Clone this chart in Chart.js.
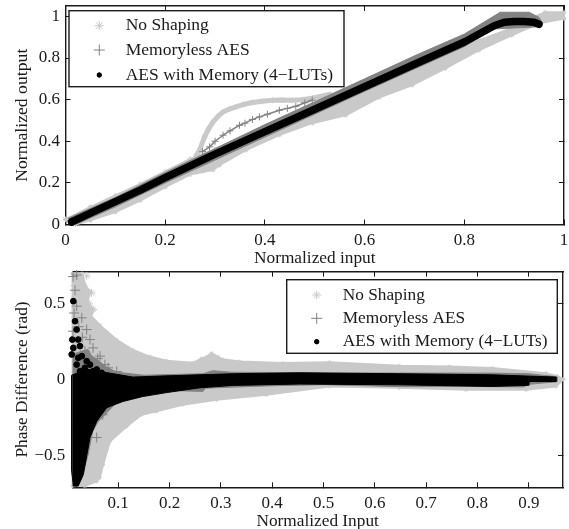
<!DOCTYPE html>
<html>
<head>
<meta charset="utf-8">
<script src="https://cdn.jsdelivr.net/npm/chart.js@4"></script>
<style>
html, body { margin: 0; padding: 0; background: #fff; overflow: hidden; }
canvas { position: absolute; left: 0; }
#topChart { top: 0; }
#bottomChart { top: 265px; }
</style>
</head>
<body>
<canvas id="topChart" width="569" height="269"></canvas>
<canvas id="bottomChart" width="569" height="267"></canvas>
<script>
const seriesNames = ['No Shaping', 'Memoryless AES', 'AES with Memory (4\u2212LUTs)'];

// upper panel: normalized input / normalized output
const topXTicks = [0, 0.2, 0.4, 0.6, 0.8, 1];
const topYTicks = [0, 0.2, 0.4, 0.6, 0.8, 1];
const topNoShapingBand = [[0, 0.025], [0.05, 0.085], [0.1, 0.14], [0.15, 0.195], [0.2, 0.255], [0.25, 0.315], [0.3, 0.36], [0.5, 0.55], [0.6, 0.66], [0.722, 0.79], [0.762, 0.822], [0.829, 0.885], [0.895, 0.943], [0.935, 0.991], [0.962, 1.02], [1, 1.02], [1, 0.99], [0.949, 0.966], [0.895, 0.909], [0.829, 0.837], [0.762, 0.75], [0.695, 0.669], [0.629, 0.61], [0.562, 0.525], [0.495, 0.487], [0.429, 0.43], [0.362, 0.357], [0.309, 0.285], [0.296, 0.262], [0.25, 0.24], [0.2, 0.18], [0.15, 0.115], [0.1, 0.06], [0.05, 0.02], [0.02, 0], [0, 0.025]];
const topNoShapingHump = [[0.262, 0.33], [0.269, 0.357], [0.279, 0.421], [0.287, 0.46], [0.296, 0.493], [0.306, 0.52], [0.316, 0.541], [0.329, 0.555], [0.342, 0.565], [0.358, 0.577], [0.375, 0.586], [0.395, 0.592], [0.415, 0.597], [0.435, 0.598], [0.455, 0.597], [0.475, 0.6], [0.495, 0.607], [0.53, 0.625]];
const topMemorylessBand = [[0.005, 0.03], [0.1, 0.13], [0.2, 0.25], [0.3, 0.365], [0.4, 0.48], [0.5, 0.59], [0.6, 0.7], [0.709, 0.82], [0.8, 0.915], [0.872, 1.02], [0.93, 1.02], [0.95, 0.995], [0.955, 0.975], [0.95, 0.95], [0.86, 0.94], [0.8, 0.855], [0.6, 0.64], [0.4, 0.42], [0.2, 0.2], [0.1, 0.085], [0.02, 0], [0.005, 0.03]];
const topMemorylessHump = [[0.275, 0.35], [0.289, 0.373], [0.3, 0.4], [0.316, 0.429], [0.33, 0.45], [0.349, 0.477], [0.36, 0.487], [0.375, 0.505], [0.389, 0.517], [0.405, 0.53], [0.429, 0.549], [0.445, 0.558], [0.462, 0.568], [0.48, 0.585], [0.495, 0.597]];
const topMemoryLine = [[0.012, 0.012], [0.05, 0.055], [0.1, 0.11], [0.15, 0.165], [0.2, 0.225], [0.25, 0.282], [0.3, 0.338], [0.4, 0.446], [0.5, 0.554], [0.6, 0.662], [0.7, 0.77], [0.8, 0.877], [0.86, 0.955], [0.88, 0.972], [0.9, 0.976], [0.92, 0.975], [0.94, 0.972], [0.95, 0.962]];

// lower panel: normalized input / phase difference
const bottomXTicks = [0.1, 0.2, 0.3, 0.4, 0.5, 0.6, 0.7, 0.8, 0.9];
const bottomYTicks = [-0.5, 0, 0.5];
const bottomNoShapingCloud = [[0.011, 0.7], [0.03, 0.7], [0.036, 0.62], [0.046, 0.58], [0.04, 0.52], [0.052, 0.46], [0.047, 0.42], [0.0644, 0.36], [0.0969, 0.263], [0.1286, 0.197], [0.1617, 0.153], [0.194, 0.125], [0.2455, 0.112], [0.262, 0.14], [0.272, 0.15], [0.2817, 0.175], [0.295, 0.15], [0.3037, 0.135], [0.3368, 0.12], [0.421, 0.11], [0.5119, 0.116], [0.648, 0.092], [0.745, 0.087], [0.829, 0.077], [0.9335, 0.044], [0.955, 0.025], [0.968, 0.005], [0.9529, -0.044], [0.8945, -0.066], [0.778, -0.066], [0.648, -0.053], [0.5119, -0.044], [0.3887, -0.099], [0.2914, -0.132], [0.226, -0.164], [0.1747, -0.208], [0.1455, -0.23], [0.1163, -0.307], [0.0838, -0.406], [0.0705, -0.559], [0.064, -0.645], [0.058, -0.669], [0.035, -0.7], [0.011, -0.7], [0.011, 0.7]];
const bottomNoShapingStars = [[0.0385, 0.684], [0.027, 0.66], [0.048, 0.572], [0.0513, 0.463], [0.015, 0.62], [0.03, 0.56], [0.043, 0.5]];
const bottomMemorylessCloud = [[0.012, 0.17], [0.041, 0.2], [0.048, 0.16], [0.0774, 0.085], [0.097, 0.05], [0.15, 0.03], [0.265, 0.04], [0.284, 0.06], [0.32, 0.05], [0.51, 0.045], [0.829, 0.044], [0.9, 0.04], [0.955, 0.02], [0.955, -0.012], [0.9, -0.03], [0.89, -0.047], [0.8, -0.044], [0.65, -0.045], [0.5, -0.032], [0.39, -0.04], [0.27, -0.055], [0.265, -0.077], [0.2, -0.07], [0.15, -0.1], [0.1, -0.14], [0.08, -0.208], [0.06, -0.28], [0.05, -0.34], [0.0415, -0.49], [0.029, -0.645], [0.02, -0.7], [0.011, -0.7], [0.012, 0.17]];
const bottomMemorylessCrosses = [[0.019, 0.69], [0.012, 0.68], [0.0158, 0.59], [0.019, 0.485], [0.014, 0.44], [0.029, 0.408], [0.023, 0.35], [0.0385, 0.331], [0.03, 0.28], [0.045, 0.265], [0.051, 0.21], [0.035, 0.189], [0.0645, 0.156], [0.06, 0.14], [0.074, 0.1], [0.0805, 0.079], [0.097, 0.055], [0.012, 0.32], [0.058, -0.38], [0.07, -0.23]];
const bottomMemoryCloud = [[0.009, 0.03], [0.04, 0.07], [0.0644, 0.055], [0.1286, 0.018], [0.1947, 0.026], [0.323, 0.04], [0.453, 0.046], [0.648, 0.04], [0.829, 0.033], [0.953, 0.018], [0.953, -0.012], [0.9, -0.011], [0.9, -0.036], [0.829, -0.044], [0.648, -0.033], [0.453, -0.028], [0.323, -0.037], [0.259, -0.053], [0.1947, -0.084], [0.148, -0.11], [0.109, -0.143], [0.0774, -0.184], [0.058, -0.274], [0.0449, -0.38], [0.032, -0.625], [0.022, -0.7], [0.013, -0.7], [0.009, -0.6], [0.009, 0.03]];
const bottomMemoryDots = [[0.0125, 0.518], [0.0158, 0.386], [0.019, 0.331], [0.0105, 0.265], [0.022, 0.265], [0.0125, 0.21], [0.0255, 0.222], [0.0093, 0.167], [0.029, 0.156], [0.022, 0.145], [0.0385, 0.123], [0.019, 0.1], [0.045, 0.1], [0.035, 0.079], [0.058, 0.068], [0.0255, 0.057], [0.051, 0.057], [0.0677, 0.046]];

const LIGHT = '#c9c9c9';
const MID = '#828282';
const INK = '#1a1a1a';
const FONT = '"Liberation Serif", "Times New Roman", serif';

function pts(list) {
    return list.map(p => ({ x: p[0], y: p[1] }));
}

function band(list, color, width, style, radius) {
    return {
        data: pts(list), showLine: true, fill: 'shape', backgroundColor: color, borderColor: color,
        borderWidth: width, borderJoinStyle: 'round', pointStyle: style, pointRadius: radius,
        pointBorderColor: color, pointBackgroundColor: color, pointBorderWidth: 1, clip: 6
    };
}

function stroke(list, color, width, style, radius) {
    return {
        data: pts(list), showLine: true, fill: false, borderColor: color, borderWidth: width,
        borderCapStyle: 'round', borderJoinStyle: 'round',
        pointStyle: style, pointRadius: radius, pointBorderColor: color, pointBackgroundColor: color,
        pointBorderWidth: 1, clip: 6
    };
}

function marks(list, color, style, radius) {
    return {
        data: pts(list), showLine: false, pointStyle: style, pointRadius: radius, pointBorderColor: color,
        pointBackgroundColor: color, pointBorderWidth: 1, clip: 6
    };
}

function tickText(v) {
    return v === 0 ? '0' : String(v).replace('-', '\u2212');
}

function axis(pos, min, max, ticks, title, size, tickPad, titlePad, titleSize) {
    const horizontal = pos === 'bottom' || pos === 'top';
    const main = pos === 'bottom' || pos === 'left';
    const o = {
        type: 'linear', position: pos, axis: horizontal ? 'x' : 'y', min: min, max: max,
        afterBuildTicks: s => { s.ticks = ticks.map(v => ({ value: v })); },
        afterFit: s => {
            if (horizontal) s.height = size; else s.width = size;
            s.paddingLeft = s.paddingRight = s.paddingTop = s.paddingBottom = 0;
        },
        border: { display: true, color: INK, width: 1.4 },
        grid: { drawOnChartArea: false, tickLength: -5, tickColor: INK, tickWidth: 1 },
        ticks: {
            display: main, autoSkip: false, maxRotation: 0, padding: tickPad, color: INK,
            font: { family: FONT, size: 17 }, callback: v => tickText(v)
        }
    };
    if (main) {
        o.title = { display: true, text: title, color: INK, font: { family: FONT, size: titleSize }, padding: titlePad };
    }
    return o;
}

// legend box inside the axes, drawn after the marks so it sits on top
function legendPlugin(box) {
    return {
        id: 'boxLegend',
        afterDatasetsDraw(chart) {
            const ctx = chart.ctx;
            ctx.save();
            ctx.fillStyle = '#fff';
            ctx.strokeStyle = INK;
            ctx.lineWidth = 1.4;
            ctx.fillRect(box.left, box.top, box.right - box.left, box.bottom - box.top);
            ctx.strokeRect(box.left, box.top, box.right - box.left, box.bottom - box.top);
            const styles = [['star', LIGHT, 4.5], ['cross', MID, 5.5], ['circle', '#000', 2.2]];
            seriesNames.forEach((name, i) => {
                const s = styles[i];
                ctx.strokeStyle = s[1];
                ctx.fillStyle = s[1];
                ctx.lineWidth = 1;
                Chart.helpers.drawPoint(ctx, { pointStyle: s[0], radius: s[2], borderWidth: 1 }, box.markX, box.rows[i]);
                if (s[0] === 'circle') ctx.fill();
                ctx.fillStyle = INK;
                ctx.font = box.fontSize + 'px ' + FONT;
                ctx.textAlign = 'left';
                ctx.textBaseline = 'middle';
                ctx.fillText(name, box.textX, box.rows[i]);
            });
            ctx.restore();
        }
    };
}

function makeChart(id, datasets, scales, padding, box) {
    return new Chart(document.getElementById(id), {
        type: 'scatter',
        data: { datasets: datasets },
        options: {
            responsive: false,
            animation: false,
            layout: { padding: padding },
            scales: scales,
            plugins: { legend: { display: false }, tooltip: { enabled: false } }
        },
        plugins: [legendPlugin(box)]
    });
}

makeChart('topChart', [
    stroke(topMemoryLine, '#000', 7.5, 'circle', 0),
    stroke(topMemorylessHump, MID, 1.5, 'cross', 3.5),
    band(topMemorylessBand, MID, 1, 'cross', 0),
    stroke(topNoShapingHump, LIGHT, 5, 'star', 3),
    band(topNoShapingBand, LIGHT, 2, 'star', 2.5)
], {
    x: axis('bottom', 0, 1, topXTicks, 'Normalized input', 44.5, 11, { top: 0, bottom: 0 }, 17.3),
    y: axis('left', 0, 1.05, topYTicks, 'Normalized output', 65.5, 10.5, { top: 12, bottom: 0 }, 17.7),
    x2: axis('top', 0, 1, topXTicks, '', 0, 0, 0, 0),
    y2: axis('right', 0, 1.05, topYTicks, '', 0, 0, 0, 0)
}, { top: 6, right: 3.5, left: 0, bottom: 0 }, {
    left: 69, top: 10.7, right: 344, bottom: 86.7, markX: 99.3, textX: 125.7, rows: [25.7, 50, 75], fontSize: 17.5
});

// canvas sits at y = 265, so box coordinates are local to it
makeChart('bottomChart', [
    marks(bottomMemoryDots, '#000', 'circle', 2.9),
    band(bottomMemoryCloud, '#000', 1, 'circle', 0),
    marks(bottomMemorylessCrosses, MID, 'cross', 5),
    band(bottomMemorylessCloud, MID, 1, 'cross', 0),
    marks(bottomNoShapingStars, LIGHT, 'star', 4),
    band(bottomNoShapingCloud, LIGHT, 2, 'star', 2)
], {
    x: axis('bottom', 0.0105, 0.9667, bottomXTicks, 'Normalized Input', 44.7, 11, { top: 0, bottom: 0 }, 17.3),
    y: axis('left', -0.708, 0.712, bottomYTicks, 'Phase Difference (rad)', 72.3, 12, { top: 12, bottom: 0 }, 17.3),
    x2: axis('top', 0.0105, 0.9667, bottomXTicks, '', 0, 0, 0, 0),
    y2: axis('right', -0.708, 0.712, bottomYTicks, '', 0, 0, 0, 0)
}, { top: 6.7, right: 5, left: 0, bottom: 0 }, {
    left: 286.7, top: 14.7, right: 557.3, bottom: 88.3, markX: 316.7, textX: 342.7, rows: [30, 53.3, 76.7], fontSize: 17.3
});
</script>
</body>
</html>
